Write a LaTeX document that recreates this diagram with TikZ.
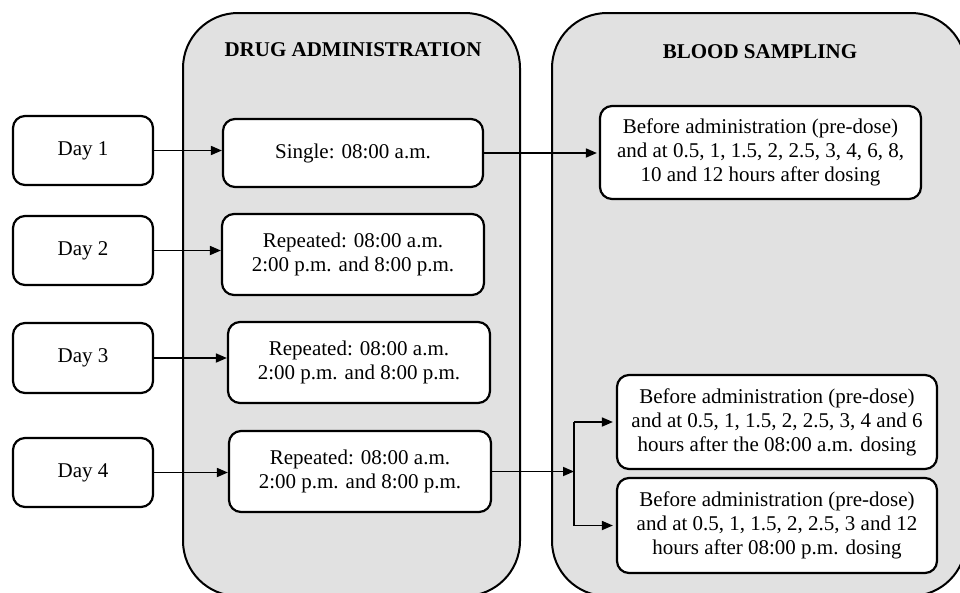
\documentclass[tikz,border=0pt]{standalone}
\usepackage{fontspec}
\setmainfont{Liberation Serif}
\usetikzlibrary{arrows.meta}
\definecolor{panelgray}{RGB}{225,225,225}
\begin{document}
\begin{tikzpicture}[x=1pt,y=-1pt,
  txt/.style={font=\fontsize{21}{24}\selectfont},
  box/.style={txt,draw,fill=white,line width=2.2pt,rounded corners=12pt,align=center,inner sep=0pt},
  panel/.style={draw,fill=panelgray,line width=2pt,rounded corners=55pt},
  head/.style={font=\fontsize{21}{24}\selectfont\bfseries},
  conn/.style={line width=1.7pt,-{Triangle[length=11pt,width=9pt]}},
  bar/.style={line width=2.4pt}]
\useasboundingbox (0,0) rectangle (960,592);
\begin{scope}
\clip (0,0) rectangle (960,592);
\draw[panel] (183,596) rectangle (520,13);
\draw[panel] (552,596) rectangle (966,13);
\end{scope}
\node[head] (hdrug) at (353,50) {DRUG ADMINISTRATION};
\node[head] (hblood) at (760,52) {BLOOD SAMPLING};
% days
\node[box,minimum width=140pt,minimum height=69pt] (d1) at (83,150.5) {Day 1};
\node[box,minimum width=140pt,minimum height=69pt] (d2) at (83,250.5) {Day 2};
\node[box,minimum width=140pt,minimum height=70pt] (d3) at (83,358) {Day 3};
\node[box,minimum width=140pt,minimum height=69pt] (d4) at (83,472.5) {Day 4};
% drug administration
\node[box,minimum width=260pt,minimum height=68pt] (s1) at (353,153) {Single: 08:00 a.m.};
\node[box,minimum width=262pt,minimum height=81pt] (r2) at (353,254.5) {Repeated: 08:00 a.m.\\2:00 p.m. and 8:00 p.m.};
\node[box,minimum width=262pt,minimum height=81pt] (r3) at (359,362.5) {Repeated: 08:00 a.m.\\2:00 p.m. and 8:00 p.m.};
\node[box,minimum width=262pt,minimum height=81pt] (r4) at (360,471.5) {Repeated: 08:00 a.m.\\2:00 p.m. and 8:00 p.m.};
% blood sampling
\node[box,minimum width=321pt,minimum height=93pt] (b1) at (760.5,152.5) {Before administration (pre-dose)\\and at 0.5, 1, 1.5, 2, 2.5, 3, 4, 6, 8,\\10 and 12 hours after dosing};
\node[box,minimum width=320pt,minimum height=94pt] (b2) at (777,422) {Before administration (pre-dose)\\and at 0.5, 1, 1.5, 2, 2.5, 3, 4 and 6\\hours after the 08:00 a.m. dosing};
\node[box,minimum width=320pt,minimum height=95pt] (b3) at (777,525.5) {Before administration (pre-dose)\\and at 0.5, 1, 1.5, 2, 2.5, 3 and 12\\hours after 08:00 p.m. dosing};
% connectors
\draw[conn] (d1.east) -- (d1.east -| s1.west);
\draw[conn] (d2.east) -- (d2.east -| r2.west);
\draw[conn] (d3.east) -- (d3.east -| r3.west);
\draw[conn] (d4.east) -- (d4.east -| r4.west);
\draw[conn,shorten >=2pt] (s1.east) -- (s1.east -| b1.west);
\coordinate (split) at (574,471.5);
\draw[conn] (r4.east) -- (split);
\draw[bar] (split |- b2.west) -- (split |- b3.west);
\draw[conn,shorten >=3pt] (split |- b2.west) -- (b2.west);
\draw[conn,shorten >=3pt] (split |- b3.west) -- (b3.west);
\end{tikzpicture}
\end{document}
